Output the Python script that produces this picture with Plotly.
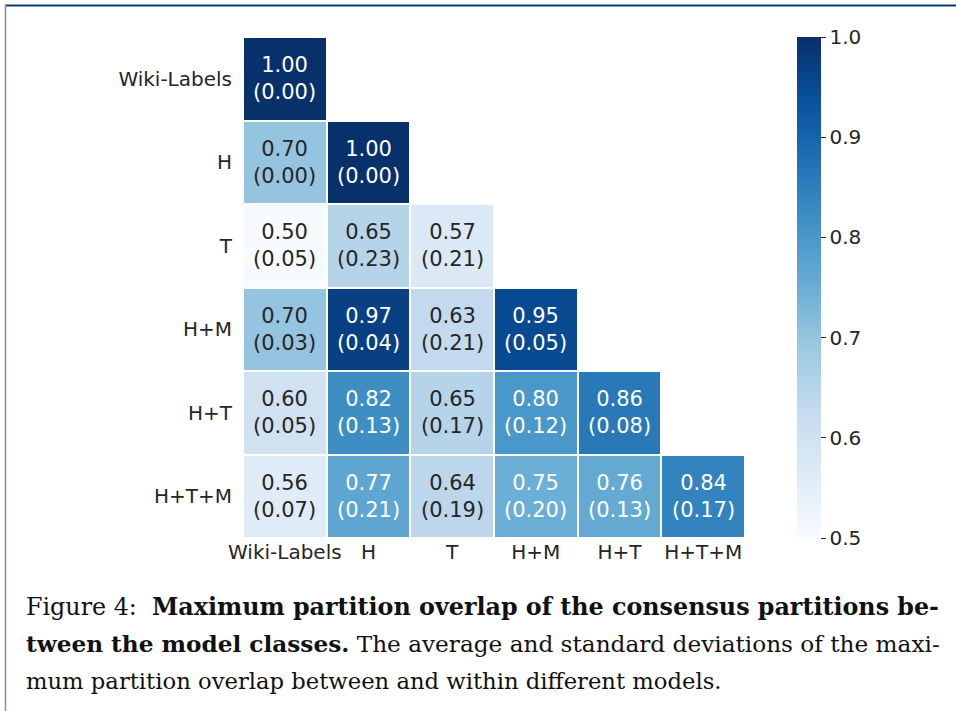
import plotly.graph_objects as go

categories = ["Wiki-Labels", "H", "T", "H+M", "H+T", "H+T+M"]

mean_rows = [
    [1.00],
    [0.70, 1.00],
    [0.50, 0.65, 0.57],
    [0.70, 0.97, 0.63, 0.95],
    [0.60, 0.82, 0.65, 0.80, 0.86],
    [0.56, 0.77, 0.64, 0.75, 0.76, 0.84],
]
std_rows = [
    [0.00],
    [0.00, 0.00],
    [0.05, 0.23, 0.21],
    [0.03, 0.04, 0.21, 0.05],
    [0.05, 0.13, 0.17, 0.12, 0.08],
    [0.07, 0.21, 0.19, 0.20, 0.13, 0.17],
]
colorbar_ticks = [0.5, 0.6, 0.7, 0.8, 0.9, 1.0]

caption_lines = [
    "Figure 4:  <b>Maximum partition overlap of the consensus partitions be-</b>",
    "<b>tween the model classes.</b> The average and standard deviations of the maxi-",
    "mum partition overlap between and within different models.",
]

n = len(categories)
z = [[(mean_rows[i][j] if j < len(mean_rows[i]) else None) for j in range(n)] for i in range(n)]

W, H = 956, 711
L, R, T, B = 243, 211, 37, 173
pw, ph = W - L - R, H - T - B


def px_x(x):
    return (x - L) / pw


def px_y(y):
    return (H - B - y) / ph


fig = go.Figure()
fig.add_trace(go.Heatmap(
    z=z, x=categories, y=categories,
    colorscale="Blues", zmin=0.5, zmax=1.0,
    xgap=2, ygap=2, hoverongaps=False,
    colorbar=dict(
        x=px_x(797), xanchor="left", thickness=24, len=1, lenmode="fraction",
        xpad=0, ypad=0,
        y=0.5, yanchor="middle", outlinewidth=0,
        tickvals=colorbar_ticks, ticktext=[f"{v:.1f}" for v in colorbar_ticks],
        ticks="outside", ticklen=5, tickwidth=1, tickcolor="#262626",
        tickfont=dict(family="DejaVu Sans", size=20, color="#262626"),
    ),
))

annotations = []
for i in range(n):
    for j in range(len(mean_rows[i])):
        m = mean_rows[i][j]
        s = std_rows[i][j]
        col = "white" if m >= 0.72 else "#262626"
        annotations.append(dict(
            x=categories[j], y=categories[i], xref="x", yref="y",
            text=f"{m:.2f}<br>({s:.2f})", showarrow=False,
            font=dict(family="DejaVu Sans", size=21, color=col),
        ))

cap_y = [607, 643, 681]
cap_size = [23.8, 23.2, 22.7]
for k, line in enumerate(caption_lines):
    annotations.append(dict(
        x=px_x(24), y=px_y(cap_y[k]), xref="paper", yref="paper",
        xanchor="left", yanchor="middle", text=line, showarrow=False,
        font=dict(family="DejaVu Serif", size=cap_size[k], color="#111111"),
    ))

fig.update_layout(
    width=W, height=H,
    margin=dict(l=L, r=R, t=T, b=B),
    paper_bgcolor="white", plot_bgcolor="white",
    annotations=annotations,
    shapes=[
        dict(type="line", xref="paper", yref="paper",
             x0=px_x(5), x1=px_x(956), y0=px_y(5.5), y1=px_y(5.5),
             line=dict(color="#0b3a6a", width=2)),
        dict(type="line", xref="paper", yref="paper",
             x0=px_x(5.5), x1=px_x(5.5), y0=px_y(5), y1=px_y(711),
             line=dict(color="#7d8fb0", width=1.5)),
    ],
    xaxis=dict(showgrid=False, zeroline=False, showline=False,
               ticks="", tickfont=dict(family="DejaVu Sans", size=20, color="#262626")),
    yaxis=dict(showgrid=False, zeroline=False, showline=False, autorange="reversed",
               ticks="outside", ticklen=6, tickcolor="rgba(0,0,0,0)",
               tickfont=dict(family="DejaVu Sans", size=20, color="#262626")),
)

fig.write_html("out.html", config={"displayModeBar": False},
               post_script="document.body.style.margin='0';document.body.style.overflow='hidden';")
